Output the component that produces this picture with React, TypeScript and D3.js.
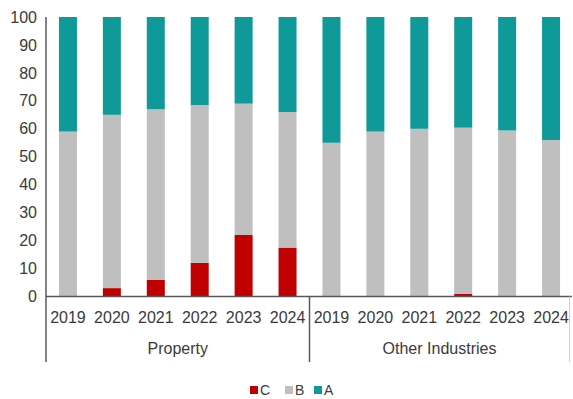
import React from "react";
import * as d3 from "d3";

const groups = ["Property", "Other Industries"];
const years = ["2019", "2020", "2021", "2022", "2023", "2024"];
const seriesC = [0, 3, 6, 12, 22, 17.5, 0, 0, 0, 1, 0, 0];
const seriesB = [59, 62, 61, 56.5, 47, 48.5, 55, 59, 60, 59.4, 59.4, 56];
const seriesA = [41, 35, 33, 31.5, 31, 34, 45, 41, 40, 39.6, 40.6, 44];
const yTicks = [0, 10, 20, 30, 40, 50, 60, 70, 80, 90, 100];
const legendItems = ["C", "B", "A"];

const colors: Record<string, string> = { C: "#c00000", B: "#bfbfbf", A: "#0f9a99" };

export default function App() {
  const W = 573, H = 399;
  const left = 46, right = 573, top = 17, bottom = 296.5;
  const cats = groups.flatMap((g) => years.map((y) => `${g}|${y}`));
  const x = d3.scaleBand<string>().domain(cats).range([left, right]).paddingInner(0.59).paddingOuter(0.295);
  const y = d3.scaleLinear().domain([0, 100]).range([bottom, top]);
  const keys = ["C", "B", "A"];
  const rows = cats.map((c, i) => ({ cat: c, C: seriesC[i], B: seriesB[i], A: seriesA[i] }));
  const stacked = d3.stack<any>().keys(keys)(rows);
  const font = "'Liberation Sans', Arial, sans-serif";
  const txt = "#3a3a3a";
  const fs = 16;
  const step = x.step();
  const sepX = (x(`${groups[1]}|${years[0]}`) as number) - (step - x.bandwidth()) / 2;
  const bandLeft = x(cats[0])! - (step - x.bandwidth()) / 2;
  const legendX = [250, 285, 314];

  return (
    <svg width={W} height={H} style={{ position: "absolute", left: 0, top: 0, background: "#fff" }}>
      {stacked.map((s) =>
        s.map((d, i) => (
          <rect
            key={s.key + i}
            x={x(rows[i].cat)}
            y={y(d[1])}
            width={x.bandwidth()}
            height={Math.max(0, y(d[0]) - y(d[1]))}
            fill={colors[s.key]}
          />
        ))
      )}
      {yTicks.map((t) => (
        <text key={t} x={37} y={y(t)} dy="0.35em" textAnchor="end" fontFamily={font} fontSize={fs} fill={txt}>
          {t}
        </text>
      ))}
      <line x1={left} x2={left} y1={top} y2={362} stroke="#595959" strokeWidth={1.5} />
      <line x1={left} x2={572} y1={bottom} y2={bottom} stroke="#595959" strokeWidth={1.5} />
      <line x1={sepX} x2={sepX} y1={bottom} y2={362} stroke="#595959" strokeWidth={1.5} />
      <line x1={569.5} x2={569.5} y1={bottom} y2={362} stroke="#d0d0d0" strokeWidth={1} />
      {cats.map((c, i) => (
        <text key={c} x={x(c)! + x.bandwidth() / 2} y={317} dy="0.35em" textAnchor="middle" fontFamily={font} fontSize={fs} fill={txt}>
          {years[i % years.length]}
        </text>
      ))}
      {groups.map((g, gi) => {
        const x0 = gi === 0 ? bandLeft : sepX;
        const x1 = gi === 0 ? sepX : 569.5;
        return (
          <text key={g} x={(x0 + x1) / 2} y={348} dy="0.35em" textAnchor="middle" fontFamily={font} fontSize={fs} fill={txt}>
            {g}
          </text>
        );
      })}
      {legendItems.map((k, i) => (
        <g key={k} transform={`translate(${legendX[i]},390)`}>
          <rect x={0} y={-4} width={8} height={8} fill={colors[k]} />
          <text x={10} y={0} dy="0.35em" fontFamily={font} fontSize={14} fill={txt}>
            {k}
          </text>
        </g>
      ))}
    </svg>
  );
}
